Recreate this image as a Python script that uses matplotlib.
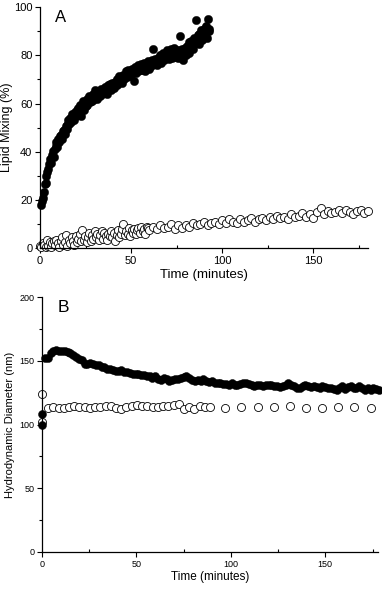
import numpy as np
import matplotlib
matplotlib.use("Agg")
import matplotlib.pyplot as plt
from matplotlib.ticker import MultipleLocator

plt.rcParams['font.family'] = ['Liberation Sans', 'DejaVu Sans']

# ---------------- Panel A data ----------------
tA_fill = np.arange(1, 187) * 0.5
vA_fill = [
    18, 19.5, 21, 23.5, 26.5, 27, 30, 31.5, 33, 35,
    37, 35.5, 38.5, 40.5, 38, 41, 42.5, 44, 42, 45.5,
    44, 46.5, 47, 45.5, 48.5, 49, 47.5, 50.5, 51, 49.5,
    53, 51.5, 54, 52.5, 55.5, 54, 53, 56.5, 55, 57.5,
    56, 58, 57, 59.5, 55, 58.5, 61, 57.5, 60, 59,
    62, 59.5, 61, 63, 60.5, 62.5, 61, 64, 62, 65.5,
    63, 64.5, 62, 63.5, 65, 63, 66, 64, 65.5, 64.5,
    67, 65, 66.5, 64, 67.5, 66, 68, 65.5, 68.5, 67,
    66.5, 69, 68, 70, 67.5, 69.5, 71.5, 69, 70.5, 68.5,
    72, 70, 71.5, 73.5, 71, 72.5, 74, 71.5, 73, 72,
    74.5, 73, 69.5, 75, 72.5, 74, 76, 73.5, 75.5, 74,
    76.5, 74, 75.5, 77, 73.5, 76, 75, 77.5, 76, 74.5,
    77, 75.5, 78, 82.5, 76.5, 78.5, 77, 76, 79, 77.5,
    78.5, 80, 77, 79.5, 81, 78, 80.5, 79, 82, 79.5,
    81, 78.5, 80, 82.5, 79, 80.5, 83, 79.5, 81.5, 80,
    82, 79, 81, 88, 80.5, 82.5, 78, 81.5, 83, 80,
    84, 82, 85.5, 81, 83.5, 86, 84, 82.5, 87, 85,
    94.5, 86, 88.5, 84.5, 89, 87, 90.5, 86.5, 88, 91,
    89, 92, 87, 95, 91, 90,
]

tA_open = np.concatenate([np.arange(0, 81) * 0.75, 62 + np.arange(0, 60) * 2.0])
vA_open = [
    1, 0.5, 2, 1.5, 0.5, 3.5, 1, 2.5, 0.5, 2, 3,
    1.5, 3.5, 2, 0.5, 3, 4.5, 1.5, 2.5, 5.5, 1,
    3.5, 2, 4.5, 3, 1.5, 5, 2.5, 4, 6, 3,
    7.5, 3.5, 5, 2.5, 4.5, 6.5, 3, 5.5, 4, 7,
    4.5, 6, 3.5, 5.5, 7, 4, 6.5, 5, 3.5, 6,
    5, 7, 4.5, 6.5, 3, 5.5, 7.5, 4.5, 6, 8,
    10, 5.5, 7, 6, 8.5, 5, 7.5, 6.5, 8, 6,
    7.5, 8.5, 6.5, 9, 7, 8, 6, 9, 8.5, 7.5,
    9, 8, 9.5, 8.5, 9, 10, 8, 9.5, 8.5, 9.5,
    9, 10.5, 9.5, 10, 11, 9.5, 10.5, 11, 10, 11.5,
    10.5, 12, 11, 10.5, 12, 11, 11.5, 12.5, 11, 12,
    12.5, 11.5, 13, 12, 13.5, 12.5, 13, 12, 14, 13,
    13.5, 14.5, 13, 14, 12.5, 15, 16.5, 14, 15.5, 14.5,
    15, 16, 14.5, 16, 15, 14, 15.5, 16, 14.5, 15.5,
]

# ---------------- Panel B data ----------------
tB_fill = np.concatenate([[0, 0], np.arange(1, 120) * 1.5])
vB_fill = [
    100, 108,
    152, 152.5, 156, 158, 158.5, 158, 157.5, 157.5, 157, 156,
    155, 153, 151.5, 150.5, 148, 148, 148.5, 147.5, 147, 146.5,
    145.5, 145, 144, 143.5, 143, 142.5, 142.5, 143, 141, 141.5,
    140.5, 140, 140, 139.5, 139, 139, 138.5, 138, 137, 138.5,
    136, 135, 136.5, 135.5, 134.5, 135, 136, 135.5, 136.5, 137.5,
    138, 136.5, 135, 134, 135, 134.5, 135.5, 134, 133.5, 134,
    133, 132.5, 133, 132, 132, 131.5, 132.5, 131, 131.5, 132,
    132.5, 133, 132, 131, 130.5, 131, 131.5, 130.5, 131, 131.5,
    131, 130.5, 130, 129.5, 130.5, 131.5, 133, 131.5, 130, 129,
    128.5, 130, 131, 130, 129.5, 130.5, 129.5, 129, 130, 129.5,
    128.5, 129, 128, 127.5, 128.5, 130, 128, 129.5, 130.5, 128.5,
    129, 130, 129, 127.5, 128.5, 127, 129, 128, 127.5,
]

tB_open = np.concatenate([[0, 0], np.linspace(3.2, 89, 32), np.linspace(97, 174, 10)])
vB_open = [
    124, 102,
    113, 113.5, 113, 113, 114, 114.5, 113.5, 114, 113, 113.5,
    114, 114.5, 115, 113, 112.5, 113.5, 115, 115.5, 115, 114.5,
    114, 113.5, 114.5, 115, 115.5, 116, 112.5, 113.5, 112, 114.5,
    113.5, 114,
    113, 113.5, 114, 113.5, 114.5, 113, 113, 113.5, 114, 113,
]

fig = plt.figure(figsize=(3.82, 5.91), dpi=100)

def style(ax, tick_fs):
    for s in ['top', 'right']:
        ax.spines[s].set_visible(False)
    for s in ['left', 'bottom']:
        ax.spines[s].set_linewidth(0.9)
    ax.tick_params(axis='both', which='major', direction='out', length=3.5, width=0.8,
                   labelsize=tick_fs, pad=2)
    ax.tick_params(axis='y', which='minor', direction='out', length=2, width=0.8)
    ax.tick_params(axis='x', which='minor', direction='in', length=2, width=0.8)

# Panel A
axA = fig.add_axes([0.105, 0.580, 0.858, 0.408])
axA.plot(tA_open, vA_open, 'o', ms=5.8, mfc='white', mec='black', mew=0.6, clip_on=False, zorder=2)
axA.plot(tA_fill, vA_fill, 'o', ms=6.0, mfc='black', mec='black', mew=0.3, clip_on=False, zorder=3)
axA.set_xlim(0, 180)
axA.set_ylim(0, 100)
axA.xaxis.set_major_locator(MultipleLocator(50))
axA.xaxis.set_minor_locator(MultipleLocator(25))
axA.yaxis.set_major_locator(MultipleLocator(20))
axA.yaxis.set_minor_locator(MultipleLocator(10))
style(axA, 8)
axA.set_xlabel('Time (minutes)', fontsize=9.5, labelpad=2)
axA.set_ylabel('Lipid Mixing (%)', fontsize=9, labelpad=1)
axA.text(8, 99, 'A', fontsize=12, ha='left', va='top')

# Panel B
axB = fig.add_axes([0.110, 0.066, 0.880, 0.431])
axB.plot(tB_open, vB_open, 'o', ms=5.8, mfc='white', mec='black', mew=0.6, clip_on=False, zorder=2)
axB.plot(tB_fill, vB_fill, 'o', ms=5.8, mfc='black', mec='black', mew=0.3, clip_on=False, zorder=3)
axB.set_xlim(0, 178)
axB.set_ylim(0, 200)
axB.xaxis.set_major_locator(MultipleLocator(50))
axB.xaxis.set_minor_locator(MultipleLocator(25))
axB.yaxis.set_major_locator(MultipleLocator(50))
axB.yaxis.set_minor_locator(MultipleLocator(25))
style(axB, 6.5)
axB.set_xlabel('Time (minutes)', fontsize=8.5, labelpad=2)
axB.set_ylabel('Hydrodynamic Diameter (nm)', fontsize=8, labelpad=3)
axB.text(8.5, 198, 'B', fontsize=12.5, ha='left', va='top')

fig.savefig('out.png', dpi=100)
